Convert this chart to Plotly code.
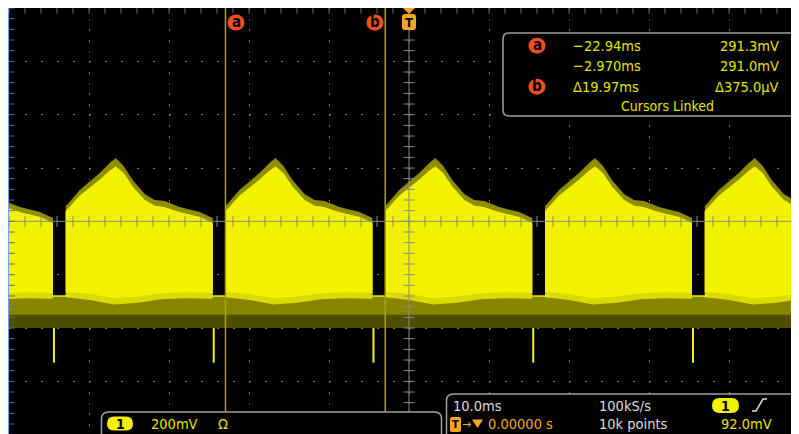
import plotly.graph_objects as go

# ---------------- data ----------------
# rising edges of each burst (ms, trigger at 0)
RISE_MS = [-62.88, -42.91, -22.94, -2.97, 17.00, 36.97]
# upper envelope of one burst: offset from rising edge (ms) and level (mV)
BURST_OFFSET_MS = [0.0, 0.25, 1.75, 4.25, 5.5, 6.25, 7.25, 8.375, 9.875, 11.125, 12.375, 14.25, 16.75, 18.375]
UPPER_MV = [57.5, 65, 117.5, 181, 219, 237.5, 207.5, 155, 102.5, 80, 76, 54, 35, 12.5]
INNER_MV = [38, 45, 96, 156, 190, 206, 180, 130, 80, 58, 53, 34, 16, -6]
# lower edge of the bright part of a burst
LOWER_OFFSET_MS = [0.0, 3.0, 6.0, 9.0, 12.0, 15.0, 18.375]
LOWER_MV = [-285, -295, -312, -305, -292, -288, -290]
SOFT_MV = [-265, -272, -288, -282, -270, -266, -268]
NOTCH_FLOOR_MV = -280
SIGNAL_MIN_MV = -400
DIM_BAND_MV = -350
SPIKE_OFFSET_MS = 0.125
SPIKE_MIN_MV = -530
CURSOR_A_MS = -22.94
CURSOR_B_MS = -2.97

READOUT_TIME = ["\u221222.94ms", "\u22122.970ms", "\u039419.97ms"]
READOUT_VOLT = ["291.3mV", "291.0mV", "\u0394375.0\u00b5V"]

# ---------------- pixel helpers for the scope decorations ----------------
# (page pixels; the figure sits 8 px in from the page's top-left corner)
def X(px):
    return (px - 409.0) / 8.0


def Y(py):
    return (221.333 - py) * 3.75


BRIGHT = "#f2f200"
SOFT = "#dada00"
FRINGE = "#8e8e00"
MID = "#858500"
DIM = "#4e4e00"
GRAY = "#8a8a8a"
ORANGE = "#f5a623"
RED = "#f04e1e"
TXT_Y = "#e4e400"
TXT_W = "#dcdcdc"
FONT = "DejaVu Sans Condensed, DejaVu Sans, sans-serif"

fig = go.Figure()

x_lo = RISE_MS[0]
x_hi = RISE_MS[-1] + BURST_OFFSET_MS[-1]

# bottom bands (continuous)
fig.add_trace(go.Scatter(x=[x_lo, x_hi, x_hi, x_lo], y=[SIGNAL_MIN_MV, SIGNAL_MIN_MV, NOTCH_FLOOR_MV, NOTCH_FLOOR_MV],
                         fill="toself", fillcolor=MID, mode="lines", line=dict(width=0), hoverinfo="skip"))
fig.add_trace(go.Scatter(x=[x_lo, x_hi, x_hi, x_lo], y=[SIGNAL_MIN_MV, SIGNAL_MIN_MV, DIM_BAND_MV, DIM_BAND_MV],
                         fill="toself", fillcolor=DIM, mode="lines", line=dict(width=0), hoverinfo="skip"))

for r in RISE_MS:
    fall = r + BURST_OFFSET_MS[-1]
    ux = [r + o for o in BURST_OFFSET_MS]
    fig.add_trace(go.Scatter(x=ux + [fall, r], y=UPPER_MV + [NOTCH_FLOOR_MV, NOTCH_FLOOR_MV],
                             fill="toself", fillcolor=FRINGE, mode="lines", line=dict(width=0), hoverinfo="skip"))
    lx = [r + o for o in LOWER_OFFSET_MS]
    fig.add_trace(go.Scatter(x=lx + ux[::-1], y=LOWER_MV + INNER_MV[::-1],
                             fill="toself", fillcolor=SOFT, mode="lines", line=dict(width=0), hoverinfo="skip"))
    fig.add_trace(go.Scatter(x=lx + ux[::-1], y=SOFT_MV + INNER_MV[::-1],
                             fill="toself", fillcolor=BRIGHT, mode="lines", line=dict(width=0), hoverinfo="skip"))

# notch floor lines and spikes
nx, ny, sx, sy = [], [], [], []
for i, r in enumerate(RISE_MS):
    fall = r + BURST_OFFSET_MS[-1]
    if i + 1 < len(RISE_MS):
        nx += [fall, RISE_MS[i + 1] + 0.5, None]
        ny += [NOTCH_FLOOR_MV, NOTCH_FLOOR_MV, None]
    sx += [fall + SPIKE_OFFSET_MS, fall + SPIKE_OFFSET_MS, None]
    sy += [SIGNAL_MIN_MV, SPIKE_MIN_MV, None]
fig.add_trace(go.Scatter(x=nx, y=ny, mode="lines", line=dict(color=BRIGHT, width=1.5), hoverinfo="skip"))
fig.add_trace(go.Scatter(x=sx, y=sy, mode="lines", line=dict(color=BRIGHT, width=2), hoverinfo="skip"))

# centre cross and its ticks
fig.add_trace(go.Scatter(x=[X(0), X(820)], y=[0, 0], mode="lines", line=dict(color=GRAY, width=1), hoverinfo="skip"))
fig.add_trace(go.Scatter(x=[0, 0], y=[Y(30), Y(440)], mode="lines", line=dict(color=GRAY, width=1), hoverinfo="skip"))
vt = [k * 40 for k in range(-20, 21)]
ht = [-50 + 2 * k for k in range(0, 50)]
fig.add_trace(go.Scatter(x=[0] * len(vt), y=vt, mode="markers", hoverinfo="skip",
                         marker=dict(symbol="line-ew", size=8, line=dict(width=1, color=GRAY))))
fig.add_trace(go.Scatter(x=ht, y=[0] * len(ht), mode="markers", hoverinfo="skip",
                         marker=dict(symbol="line-ns", size=8, line=dict(width=1, color=GRAY))))
fig.add_trace(go.Scatter(x=ht, y=[Y(8)] * len(ht), mode="markers", hoverinfo="skip",
                         marker=dict(symbol="line-ns", size=8, line=dict(width=1, color="#6a6a6a"))))
fig.add_trace(go.Scatter(x=[X(9)] * len(vt), y=vt, mode="markers", hoverinfo="skip",
                         marker=dict(symbol="line-ew", size=8, line=dict(width=1, color="#6a6a6a"))))

# cursors
for c in (CURSOR_A_MS, CURSOR_B_MS):
    fig.add_trace(go.Scatter(x=[c, c], y=[Y(8), Y(412)], mode="lines",
                             line=dict(color="#aaa400", width=1.5), hoverinfo="skip"))

# right-edge marker
fig.add_trace(go.Scatter(x=[X(799)], y=[Y(351)], mode="markers", hoverinfo="skip",
                         marker=dict(symbol="triangle-left", size=7, color=BRIGHT)))


def rrect(x0, y0, x1, y1, r):
    pts = [("M", x0 + r, y0), ("L", x1 - r, y0), ("Q", x1, y0, x1, y0 + r), ("L", x1, y1 - r),
           ("Q", x1, y1, x1 - r, y1), ("L", x0 + r, y1), ("Q", x0, y1, x0, y1 - r), ("L", x0, y0 + r),
           ("Q", x0, y0, x0 + r, y0)]
    s = ""
    for p in pts:
        cmd = p[0]
        coords = p[1:]
        parts = []
        for j in range(0, len(coords), 2):
            parts.append("%.4f,%.4f" % (X(coords[j]), Y(coords[j + 1])))
        s += cmd + " ".join(parts) + " "
    return s + "Z"


def poly(points):
    s = ""
    for k, (px, py) in enumerate(points):
        s += ("M" if k == 0 else "L") + "%.4f,%.4f " % (X(px), Y(py))
    return s


shapes = []
# info box
shapes.append(dict(type="path", path=rrect(503, 33, 798, 116, 6), fillcolor="black",
                   line=dict(color="#a0a0a0", width=1.5), layer="above"))
# bottom boxes
shapes.append(dict(type="path", path=rrect(101.5, 412, 441.5, 450, 7), fillcolor="black",
                   line=dict(color="#a0a0a0", width=1.5), layer="above"))
shapes.append(dict(type="path", path=rrect(446.5, 394, 810, 450, 7), fillcolor="black",
                   line=dict(color="#a0a0a0", width=1.5), layer="above"))
# pills
shapes.append(dict(type="path", path=rrect(107, 416.5, 133, 430.5, 7), fillcolor=BRIGHT, line=dict(width=0), layer="above"))
shapes.append(dict(type="path", path=rrect(712, 398, 739, 413, 7.5), fillcolor=BRIGHT, line=dict(width=0), layer="above"))
# cursor labels
for cx, cy in [(236, 22.5), (375, 22.5), (537, 45.7), (537, 86.7)]:
    shapes.append(dict(type="circle", x0=X(cx - 8.5), x1=X(cx + 8.5), y0=Y(cy + 8), y1=Y(cy - 8),
                       fillcolor=RED, line=dict(width=0), layer="above"))
# trigger marker at top
shapes.append(dict(type="path", path=poly([(403, 8), (415, 8), (409, 14)]) + "Z", fillcolor=ORANGE,
                   line=dict(width=0), layer="above"))
shapes.append(dict(type="path", path=rrect(402, 14, 416, 30, 3), fillcolor=ORANGE, line=dict(width=0), layer="above"))
# bottom trigger T box and arrow head
shapes.append(dict(type="path", path=rrect(450, 417, 461, 432, 2), fillcolor=ORANGE, line=dict(width=0), layer="above"))
shapes.append(dict(type="path", path=poly([(472, 419.5), (483, 419.5), (477.5, 428)]) + "Z", fillcolor=ORANGE,
                   line=dict(width=0), layer="above"))
# rising-edge symbol
shapes.append(dict(type="path", path=poly([(752, 411), (756, 411), (763, 399), (767, 399)]),
                   line=dict(color=TXT_W, width=1.5), layer="above"))


def txt(s, px, py, color, anchor="left", size=14.5, bold=False):
    if bold:
        s = "<b>" + s + "</b>"
    return dict(text=s, x=X(px), y=Y(py), xref="x", yref="y", showarrow=False, xanchor=anchor,
                yanchor="middle", font=dict(family=FONT, size=size, color=color), borderpad=0)


ann = []
ann.append(txt("a", 236, 22, "black", "center", 15, True))
ann.append(txt("b", 375, 21.5, "black", "center", 15, True))
ann.append(txt("T", 409, 22, "black", "center", 13, True))
ann.append(txt("a", 537, 45.2, "black", "center", 15, True))
ann.append(txt("b", 537, 86, "black", "center", 15, True))
for k, row_y in enumerate([45.7, 65.7, 86.7]):
    ann.append(txt(READOUT_TIME[k], 572, row_y, TXT_Y, "left"))
    ann.append(txt(READOUT_VOLT[k], 780, row_y, TXT_Y, "right"))
ann.append(txt("Cursors Linked", 667, 106, TXT_Y, "center", 14))
ann.append(txt("1", 120, 423.5, "black", "center", 14, True))
ann.append(txt("200mV", 150, 423.5, TXT_Y, "left"))
ann.append(txt("\u03a9", 217, 423.5, TXT_Y, "left"))
ann.append(txt("10.0ms", 452, 406, TXT_W, "left"))
ann.append(txt("100kS/s", 598, 406, TXT_W, "left"))
ann.append(txt("1", 725.5, 405.5, "black", "center", 14, True))
ann.append(txt("T", 455.5, 424.5, "black", "center", 11, True))
ann.append(txt("\u2192", 460.5, 424, ORANGE, "left", 12))
ann.append(txt("0.00000 s", 487, 424.3, ORANGE, "left"))
ann.append(txt("10k points", 598, 424.3, TXT_W, "left"))
ann.append(txt("92.0mV", 773, 424.3, TXT_Y, "right"))

# left blue edge line of the screen
shapes.append(dict(type="line", xref="paper", yref="paper", x0=-0.5 / 790, x1=-0.5 / 790, y0=0, y1=1,
                   line=dict(color="#6ea6ee", width=1)))

# The page places the figure 8 px from its top-left corner, so the figure is
# 791 x 426 and the screen area starts 1 px in from the figure's left edge.
fig.update_layout(
    width=791, height=426,
    margin=dict(l=1, r=0, t=0, b=0),
    paper_bgcolor="white", plot_bgcolor="black",
    showlegend=False,
    shapes=shapes, annotations=ann,
    xaxis=dict(range=[X(9), X(799)], tick0=0, dtick=10, showticklabels=False, ticks="",
               showgrid=True, gridcolor="#7a7a7a", gridwidth=1, griddash="1.5px,9.17px",
               zeroline=False, showline=False, fixedrange=True),
    yaxis=dict(range=[Y(434), Y(8)], tick0=0, dtick=200, showticklabels=False, ticks="",
               showgrid=True, gridcolor="#7a7a7a", gridwidth=1, griddash="1.5px,14.5px",
               zeroline=False, showline=False, fixedrange=True),
)

fig.write_html("out.html")
